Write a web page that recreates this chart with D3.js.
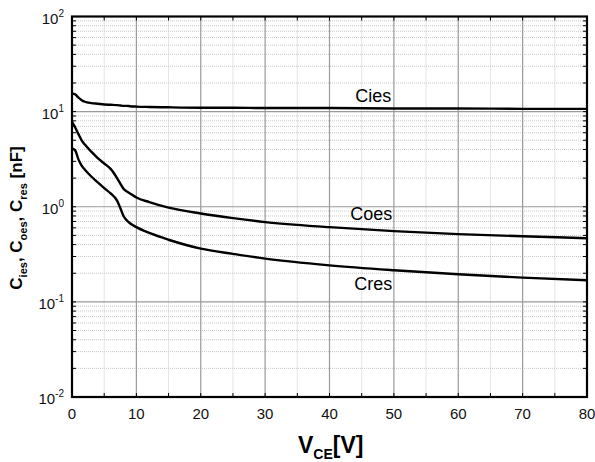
<!DOCTYPE html>
<html>
<head>
<meta charset="utf-8">
<script src="https://cdn.jsdelivr.net/npm/d3@7"></script>
<style>
  body { margin: 0; background: #fff; }
  text { font-family: Arial, "Liberation Sans", sans-serif; }
  .grid-minor line { stroke: #c8c8c8; stroke-width: 1; stroke-dasharray: 1,1; }
  .grid-major line { stroke: #9a9a9a; stroke-width: 1.2; }
  .curve { fill: none; stroke: #000; stroke-width: 2.4; }
</style>
</head>
<body>
<svg id="chart" width="595" height="462"></svg>
<script>
// plot box in px
const margin = {top: 16.5, right: 8, bottom: 65, left: 72},
      width = 595, height = 462;

// data, VCE in V, capacitance in nF
const vce  = [0, 0.5, 1, 1.5, 2, 3, 4, 5, 6, 7, 7.5, 8, 8.5, 9, 10, 12, 15, 20, 25, 30, 40, 50, 60, 70, 80];
const cies = [15.5, 15.2, 14.0, 13.2, 12.7, 12.3, 12.1, 11.9, 11.8, 11.7, 11.6, 11.5, 11.5, 11.4, 11.3, 11.2, 11.1, 11.0, 11.0, 10.9, 10.9, 10.8, 10.8, 10.7, 10.7];
const coes = [7.8, 6.8, 5.8, 5.0, 4.5, 3.8, 3.25, 2.85, 2.5, 2.0, 1.75, 1.55, 1.45, 1.38, 1.25, 1.12, 0.98, 0.85, 0.76, 0.69, 0.61, 0.555, 0.515, 0.49, 0.466];
const cres = [4.1, 3.9, 3.15, 2.7, 2.45, 2.08, 1.8, 1.57, 1.38, 1.16, 0.97, 0.8, 0.72, 0.67, 0.61, 0.53, 0.45, 0.363, 0.32, 0.285, 0.242, 0.215, 0.195, 0.18, 0.169];

const xTicks = [0, 10, 20, 30, 40, 50, 60, 70, 80];
const yExponents = [-2, -1, 0, 1, 2];
const seriesNames = ["Cies", "Coes", "Cres"];
// label baseline positions (VCE, nF)
const labelPos = [[46.8, 12.6], [46.5, 0.724], [46.8, 0.133]];

const svg = d3.select("#chart");

const x = d3.scaleLinear().domain([0, 80]).range([margin.left, width - margin.right]);
const y = d3.scaleLog().domain([0.01, 100]).range([height - margin.bottom, margin.top]);

const x0 = x.range()[0], x1 = x.range()[1];
const yb = y.range()[0], yt = y.range()[1];

// minor grid values
const yMinor = [];
yExponents.slice(0, -1).forEach(e => {
  for (let m = 2; m <= 9; m++) yMinor.push(m * Math.pow(10, e));
});
const xMinor = d3.range(5, 80, 10);

const gMinor = svg.append("g").attr("class", "grid-minor");
gMinor.selectAll(".h").data(yMinor).join("line")
    .attr("x1", x0).attr("x2", x1)
    .attr("y1", d => y(d)).attr("y2", d => y(d));
gMinor.selectAll(".v").data(xMinor).join("line")
    .attr("y1", yt).attr("y2", yb)
    .attr("x1", d => x(d)).attr("x2", d => x(d));

const gMajor = svg.append("g").attr("class", "grid-major");
gMajor.selectAll(".h").data([0.1, 1, 10]).join("line")
    .attr("x1", x0).attr("x2", x1)
    .attr("y1", d => y(d)).attr("y2", d => y(d));
gMajor.selectAll(".v").data(xTicks.slice(1, -1)).join("line")
    .attr("y1", yt).attr("y2", yb)
    .attr("x1", d => x(d)).attr("x2", d => x(d));

// inside ticks
const tickLen = 4;
const tickG = svg.append("g").attr("stroke", "#000").attr("stroke-width", 1);
const allYTicks = yMinor.concat([0.1, 1, 10]);
tickG.selectAll(".tl").data(allYTicks).join("line")
    .attr("x1", x0).attr("x2", x0 + tickLen)
    .attr("y1", d => y(d)).attr("y2", d => y(d));
tickG.selectAll(".tr").data(allYTicks).join("line")
    .attr("x1", x1 - tickLen).attr("x2", x1)
    .attr("y1", d => y(d)).attr("y2", d => y(d));
tickG.selectAll(".tb").data(d3.range(5, 80, 5)).join("line")
    .attr("y1", yb).attr("y2", yb - tickLen)
    .attr("x1", d => x(d)).attr("x2", d => x(d));
tickG.selectAll(".tt").data(d3.range(5, 80, 5)).join("line")
    .attr("y1", yt).attr("y2", yt + tickLen)
    .attr("x1", d => x(d)).attr("x2", d => x(d));

// curves
const line = d3.line()
    .x(d => x(d[0]))
    .y(d => y(d[1]))
    .curve(d3.curveMonotoneX);

[cies, coes, cres].forEach(s => {
  svg.append("path")
      .attr("class", "curve")
      .attr("d", line(vce.map((v, i) => [v, s[i]])));
});

// curve labels
svg.append("g").selectAll("text").data(seriesNames).join("text")
    .attr("x", (d, i) => x(labelPos[i][0]))
    .attr("y", (d, i) => y(labelPos[i][1]))
    .attr("text-anchor", "middle")
    .attr("font-size", 18)
    .text(d => d);

// frame
svg.append("rect")
    .attr("x", x0).attr("y", yt)
    .attr("width", x1 - x0).attr("height", yb - yt)
    .attr("fill", "none").attr("stroke", "#000").attr("stroke-width", 2.2);

// x tick labels
svg.append("g").selectAll("text").data(xTicks).join("text")
    .attr("x", d => x(d))
    .attr("y", yb + 21.5)
    .attr("text-anchor", "middle")
    .attr("font-size", 15)
    .attr("fill", "#111")
    .text(d => d);

// y tick labels with exponents
const yLab = svg.append("g").selectAll("text").data(yExponents).join("text")
    .attr("x", x0 - 8)
    .attr("y", d => y(Math.pow(10, d)) + 7)
    .attr("text-anchor", "end")
    .attr("font-size", 15)
    .attr("fill", "#111");
yLab.append("tspan").text("10");
yLab.append("tspan")
    .attr("dy", -7)
    .attr("font-size", 10)
    .text(d => d);

// x axis title
const xt = svg.append("text")
    .attr("x", 298).attr("y", 453)
    .attr("font-size", 23)
    .attr("font-weight", "bold");
xt.append("tspan").text("V");
xt.append("tspan").attr("dy", 6).attr("font-size", 14).text("CE");
xt.append("tspan").attr("dy", -6).text("[V]");

// y axis title
const yTitle = svg.append("text")
    .attr("transform", "translate(22,218) rotate(-90)")
    .attr("text-anchor", "middle")
    .attr("font-size", 17)
    .attr("font-weight", "bold");
[["C", "ies", ", "], ["C", "oes", ", "], ["C", "res", " [nF]"]].forEach(p => {
  yTitle.append("tspan").text(p[0]);
  yTitle.append("tspan").attr("dy", 5).attr("font-size", 11).text(p[1]);
  yTitle.append("tspan").attr("dy", -5).text(p[2]);
});
</script>
</body>
</html>
